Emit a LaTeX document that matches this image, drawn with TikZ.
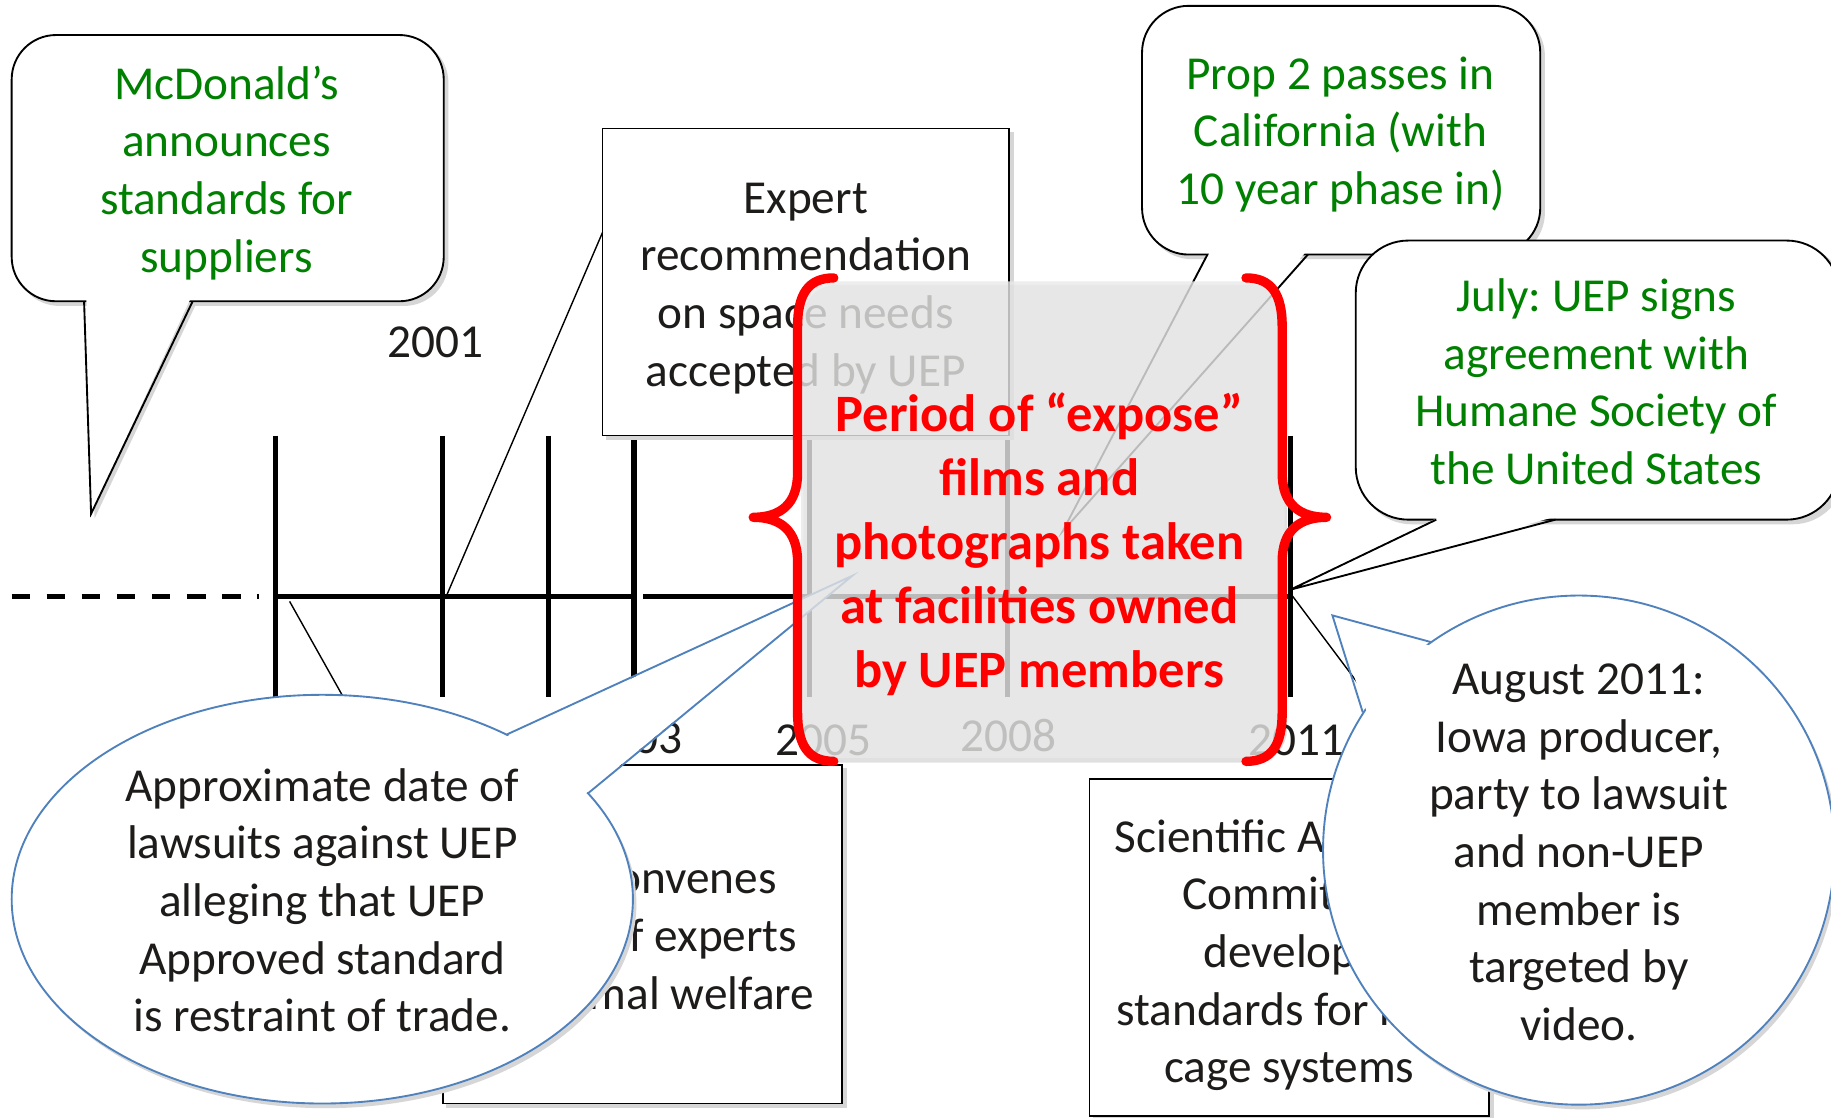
\documentclass[tikz,border=0pt]{standalone}
\usepackage{fontspec}
\setmainfont{Carlito}
\frenchspacing
\usetikzlibrary{shapes.geometric}
\definecolor{cgreen}{RGB}{0,128,0}
\definecolor{cblue}{RGB}{79,129,189}
\definecolor{ctext}{RGB}{30,28,26}
\definecolor{cred}{RGB}{255,0,0}
\definecolor{cshadow}{RGB}{214,214,214}
\definecolor{cover}{RGB}{233,233,233}
\tikzset{
  txt/.style={align=center, inner sep=0pt, font=\fontsize{40.5}{49.4}\selectfont, text=ctext},
  gtxt/.style={txt, text=cgreen},
  rtxt/.style={align=center, inner sep=0pt, font=\fontsize{45}{54.8}\selectfont\bfseries, text=cred},
  boxnode/.style={draw=black, line width=1.6pt, fill=white, inner sep=0pt},
  bubline/.style={draw=black, line width=1.6pt},
  elline/.style={draw=cblue, line width=1.6pt},
  tline/.style={line width=4.5pt, black},
  tltick/.style={line width=4.5pt, black},
  conn/.style={line width=1.2pt, black},
  bracestyle/.style={draw=cred, line width=8pt, line cap=round, line join=round},
}
\begin{document}
\begin{tikzpicture}[x=1pt,y=-1pt]
\useasboundingbox (0,0) rectangle (1568,957);
\fill[white] (0,0) rectangle (1568,957);

% ---------- McDonald's bubble
\fill[cshadow, rounded corners=38] (13,33) rectangle (384,262);
\fill[cshadow] (75,258) -- (81,444) -- (169,258) -- cycle;
\filldraw[bubline, fill=white, rounded corners=38] (10,30) rectangle (380,258);
\fill[white] (74,256) -- (78,440) -- (163,256) -- cycle;
\draw[bubline, line join=miter] (72,258) -- (78,440) -- (165,258);
\node[gtxt] (mcd) at (194,148) {McDonald’s\\announces\\standards for\\suppliers};

% ---------- timeline
\coordinate (d0) at (10,511);
\coordinate (d1) at (222,511);
\foreach \n/\x in {a/236,b/379,c/470,d/543,e/693,f/863,g/1105}{
  \coordinate (top\n) at (\x,373);
  \coordinate (bot\n) at (\x,597);
  \coordinate (mid\n) at (\x,511);
}
\coordinate (midd2) at (551,511);
\draw[tline, dash pattern=on 16pt off 14pt] (d0) -- (d1);
\draw[tline] (mida) -- (midd);
\draw[tline] (midd2) -- (midg);
\foreach \n in {a,b,c,d,e,f,g}{ \draw[tltick] (top\n) -- (bot\n); }

% ---------- Expert box
\fill[cshadow] (519,113) rectangle (868,377);
\node[boxnode, minimum width=348pt, minimum height=263pt] (expert) at (690,241.5) {};
\node[txt] (experttxt) at (690,247) {Expert\\recommendation\\on space needs\\accepted by UEP};
\coordinate (e1) at (516,199);
\coordinate (e2) at (382,511);
\draw[conn] (e1) -- (e2);

% ---------- years
\node[txt] (y2001) at (373,293) {2001};
\node[txt] (y2003) at (543,632) {2003};
\node[txt] (y2005) at (705,634) {2005};
\node[txt] (y2008) at (864,630) {2008};
\node[txt] (y2011) at (1110,634) {2011};

% ---------- lower boxes
\fill[cshadow] (382,658) rectangle (725,949);
\node[boxnode, minimum width=342pt, minimum height=290pt] (convene) at (550,800) {};
\node[txt] (convenetxt) at (550,802) {UEP convenes\\panel of experts\\on animal welfare};
\fill[cshadow] (936,670) rectangle (1279,960);
\node[boxnode, minimum width=342pt, minimum height=289pt] (sci) at (1104,811.5) {};
\node[txt] (scitxt) at (1104,818) {Scientific Advisory\\Committee\\develops\\standards for new\\cage systems};

% ---------- lawsuit bubble
\coordinate (l1) at (248,515);
\coordinate (l2) at (294,597);
\draw[conn] (l1) -- (l2);
\fill[cshadow] (279,774) ellipse [x radius=266, y radius=175];
\node[ellipse, elline, fill=white, minimum width=532pt, minimum height=350pt, inner sep=0pt] (law) at (276,770) {};
\coordinate (lawA) at (434,629);
\coordinate (lawB) at (504,679);
\coordinate (lawT) at (730,493);
\fill[white] (431,632) -- (lawT) -- (500.3,680.5) -- cycle;
\draw[draw=cblue, line width=1.6pt, line join=miter] (lawA) -- (lawT) -- (lawB);
\node[txt] (lawtxt) at (276,771) {Approximate date of\\lawsuits against UEP\\alleging that UEP\\Approved standard\\is restraint of trade.};

% ---------- Prop 2 bubble
\fill[cshadow, rounded corners=40] (981,8) rectangle (1323,222);
\filldraw[bubline, fill=white, rounded corners=40] (978,5) rectangle (1319,218);
\fill[white] (1036,216) -- (910,455) -- (1118,216) -- cycle;
\draw[bubline, line join=miter] (1034,218) -- (910,455) -- (1120,218);
\node[gtxt] (prop) at (1148,115) {Prop 2 passes in\\California (with\\10 year phase in)};

% ---------- July bubble
\fill[cshadow, rounded corners=45] (1164,209) rectangle (1580,449);
\filldraw[bubline, fill=white, rounded corners=45] (1161,206) rectangle (1575,445);
\fill[white] (1232,443) -- (1105,505) -- (1330,443) -- cycle;
\draw[bubline, line join=miter] (1230,445) -- (1105,505) -- (1332,445);
\node[gtxt] (july) at (1367,327) {July: UEP signs\\agreement with\\Humane Society of\\the United States};

% ---------- August bubble
\coordinate (a1) at (1105,508);
\coordinate (a2) at (1180,608);
\draw[conn] (a1) -- (a2);
\fill[cshadow] (1355,732) ellipse [x radius=219, y radius=218];
\node[ellipse, elline, fill=white, minimum width=438pt, minimum height=436pt, inner sep=0pt] (aug) at (1352,728) {};
\coordinate (augA) at (1226,550);
\coordinate (augB) at (1167,610);
\coordinate (augT) at (1141,527);
\fill[white] (1228,554) -- (augT) -- (1171,611) -- cycle;
\draw[draw=cblue, line width=1.6pt, line join=miter] (augA) -- (augT) -- (augB);
\node[txt] (augtxt) at (1352,730) {August 2011:\\Iowa producer,\\party to lawsuit\\and non-UEP\\member is\\targeted by\\video.};

% ---------- overlay
\fill[black, opacity=0.12, rounded corners=28] (688,244) rectangle (1102,653);
\fill[cover, opacity=0.8, rounded corners=28] (686,241) rectangle (1100,649);

% ---------- braces
\draw[bracestyle] (714,238) .. controls (692,238) and (683,252) .. (683,280) -- (683,405)
  .. controls (683,432) and (668,443) .. (645,443)
  .. controls (668,443) and (683,454) .. (683,481) -- (683,610)
  .. controls (683,638) and (692,652) .. (714,652);
\draw[bracestyle] (1067,238) .. controls (1089,238) and (1098,252) .. (1098,280) -- (1098,405)
  .. controls (1098,432) and (1113,443) .. (1136,443)
  .. controls (1113,443) and (1098,454) .. (1098,481) -- (1098,610)
  .. controls (1098,638) and (1089,652) .. (1067,652);
\node[rtxt] (period) at (890,466) {Period of “expose”\\films and\\photographs taken\\at facilities owned\\by UEP members};
\end{tikzpicture}
\end{document}
